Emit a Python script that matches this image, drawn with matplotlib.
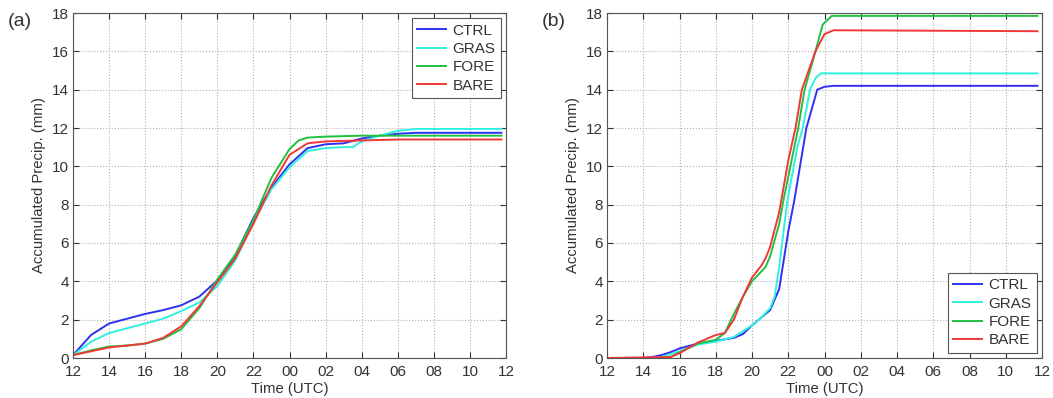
import numpy as np
import matplotlib
matplotlib.use("Agg")
import matplotlib.pyplot as plt

plt.rcParams["font.family"] = ["Liberation Sans", "DejaVu Sans"]

# Time in hours after 12 UTC

tick_hours = list(range(0, 25, 2))
tick_labels = ["12", "14", "16", "18", "20", "22", "00", "02", "04", "06", "08", "10", "12"]

names = ["CTRL", "GRAS", "FORE", "BARE"]
colors = ["#3030f0", "#30f0e0", "#20c040", "#f03838"]

# Panel (a)

a_ctrl_t = [0, 1, 2, 3, 4, 5, 6, 7, 8, 9, 10, 11, 12, 13, 14, 15, 16, 17, 18, 19, 23.75]
a_ctrl_v = [0.15, 1.2, 1.8, 2.05, 2.3, 2.5, 2.75, 3.2, 4.05, 5.35, 7.3, 8.9, 10.1, 10.95, 11.15, 11.2, 11.45, 11.6, 11.7, 11.75, 11.75]

a_gras_t = [0, 1, 2, 3, 4, 5, 6, 7, 8, 9, 10, 11, 12, 13, 14, 15, 15.5, 16, 17, 18, 19, 23.75]
a_gras_v = [0.15, 0.85, 1.3, 1.55, 1.8, 2.05, 2.45, 2.9, 3.75, 5.1, 7.1, 8.8, 9.95, 10.8, 10.95, 11.0, 11.0, 11.3, 11.6, 11.85, 11.95, 11.95]

a_fore_t = [0, 1, 2, 3, 4, 5, 6, 7, 8, 9, 10, 11, 12, 12.5, 13, 14, 16, 23.75]
a_fore_v = [0.15, 0.4, 0.6, 0.65, 0.75, 1.0, 1.5, 2.6, 4.1, 5.4, 7.2, 9.4, 10.9, 11.35, 11.5, 11.55, 11.6, 11.6]

a_bare_t = [0, 1, 2, 3, 4, 5, 6, 7, 8, 9, 10, 11, 12, 13, 14, 16, 18, 23.75]
a_bare_v = [0.15, 0.35, 0.55, 0.65, 0.75, 1.05, 1.65, 2.7, 3.95, 5.2, 7.0, 9.0, 10.6, 11.2, 11.3, 11.35, 11.4, 11.4]

# Panel (b)

b_ctrl_t = [0, 2, 2.5, 3, 3.5, 4, 5, 6, 7, 7.5, 8, 8.5, 9, 9.5, 10, 10.33, 11, 11.6, 12, 12.5, 23.75]
b_ctrl_v = [0, 0, 0.05, 0.15, 0.3, 0.5, 0.75, 0.9, 1.05, 1.25, 1.7, 2.1, 2.5, 3.6, 6.6, 8.2, 12.0, 14.0, 14.15, 14.2, 14.2]

b_gras_t = [0, 2.5, 3, 4, 5, 6, 7, 8, 8.5, 9, 9.25, 9.5, 9.95, 10.5, 10.8, 11.2, 11.5, 11.8, 23.75]
b_gras_v = [0, 0, 0.05, 0.35, 0.7, 0.85, 1.1, 1.7, 2.1, 2.6, 3.2, 4.75, 8.2, 11.0, 12.0, 14.0, 14.6, 14.85, 14.85]

b_fore_t = [0, 3, 3.5, 4, 5, 6, 6.5, 7, 7.5, 8, 8.5, 8.75, 9, 9.5, 9.75, 10.55, 10.9, 11.5, 11.9, 12.4, 23.75]
b_fore_v = [0, 0, 0.05, 0.3, 0.75, 0.95, 1.3, 2.3, 3.2, 4.0, 4.5, 4.75, 5.3, 7.0, 8.3, 12.0, 14.0, 16.0, 17.4, 17.85, 17.85]

b_bare_t = [0, 3.5, 4, 5, 5.5, 6, 6.5, 7, 7.5, 8, 8.5, 8.75, 9, 9.5, 10.0, 10.4, 10.75, 11.5, 12, 12.5, 23.75]
b_bare_v = [0, 0.05, 0.25, 0.8, 1.0, 1.2, 1.3, 2.0, 3.2, 4.2, 4.8, 5.2, 5.8, 7.6, 10.3, 12.0, 14.0, 16.0, 16.9, 17.1, 17.05]

panels = [
    ("(a)", [(a_ctrl_t, a_ctrl_v), (a_gras_t, a_gras_v), (a_fore_t, a_fore_v), (a_bare_t, a_bare_v)], "upper right"),
    ("(b)", [(b_ctrl_t, b_ctrl_v), (b_gras_t, b_gras_v), (b_fore_t, b_fore_v), (b_bare_t, b_bare_v)], "lower right"),
]

fig = plt.figure(figsize=(10.53, 3.98), dpi=100)

lefts = [73 / 1053, 607 / 1053]
widths = [433 / 1053, 435 / 1053]

for i, (tag, series, loc) in enumerate(panels):

    ax = fig.add_axes([lefts[i], 40 / 398, widths[i], 345 / 398])

    for (t, v), name, c in zip(series, names, colors):
        ax.plot(t, v, color=c, lw=1.4, label=name)

    ax.set_xlim(0, 24)
    ax.set_ylim(0, 18)
    ax.set_xticks(tick_hours)
    ax.set_xticklabels(tick_labels)
    ax.set_yticks(range(0, 19, 2))

    ax.grid(True, ls=":", color="#b0b0b0", lw=0.8)
    ax.tick_params(direction="in", top=True, right=True, labelsize=11,
                   colors="#333333", length=4)
    ax.tick_params(axis="x", pad=5)
    ax.tick_params(axis="y", pad=3)
    for s in ax.spines.values():
        s.set_color("#555555")
        s.set_linewidth(0.8)

    ax.set_xlabel("Time (UTC)", fontsize=10.7, color="#333333", labelpad=2)
    ax.set_ylabel("Accumulated Precip. (mm)", fontsize=10.7, color="#333333", labelpad=4)

    leg = ax.legend(loc=loc, fontsize=11, fancybox=False, framealpha=1,
                    edgecolor="#555555", handlelength=1.9, handletextpad=0.4,
                    borderaxespad=0.35, labelspacing=0.28, borderpad=0.35)
    leg.get_frame().set_linewidth(0.8)
    for txt in leg.get_texts():
        txt.set_color("#333333")

    fig.text(lefts[i] - 65 / 1053, 1 - 22 / 398, tag, fontsize=14,
             color="#333333", va="center", ha="left")

fig.savefig("out.png", dpi=100)
